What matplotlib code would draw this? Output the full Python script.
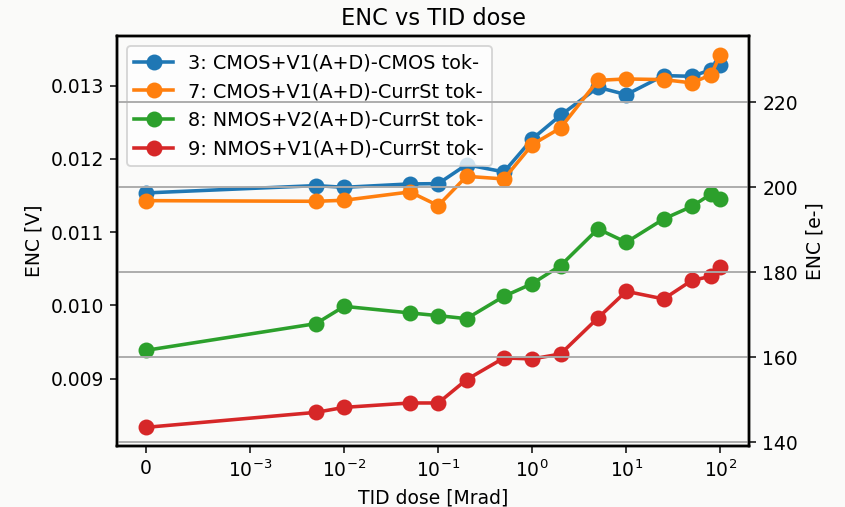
import matplotlib
matplotlib.use("Agg")
import matplotlib.pyplot as plt
from matplotlib.ticker import NullLocator

# TID dose steps [Mrad]
dose = [0, 0.005, 0.01, 0.05, 0.1, 0.2, 0.5, 1, 2, 5, 10, 25, 50, 80, 100]

# ENC [V] per configuration
enc_3 = [0.011535, 0.011635, 0.011612, 0.011658, 0.011662, 0.011921, 0.011822,
         0.012272, 0.012595, 0.012977, 0.012877, 0.013137, 0.013127, 0.013218, 0.013287]
enc_7 = [0.011430, 0.011421, 0.011435, 0.011549, 0.011362, 0.011762, 0.011726,
         0.012195, 0.012422, 0.013072, 0.013091, 0.013082, 0.013037, 0.013150, 0.013423]
enc_8 = [0.009386, 0.009751, 0.009987, 0.009897, 0.009860, 0.009819, 0.010124,
         0.010297, 0.010543, 0.011044, 0.010861, 0.011180, 0.011352, 0.011521, 0.011457]
enc_9 = [0.008335, 0.008540, 0.008608, 0.008668, 0.008668, 0.008986, 0.009283,
         0.009269, 0.009337, 0.009829, 0.010192, 0.010088, 0.010342, 0.010397, 0.010525]

labels = [
    "3: CMOS+V1(A+D)-CMOS tok-",
    "7: CMOS+V1(A+D)-CurrSt tok-",
    "8: NMOS+V2(A+D)-CurrSt tok-",
    "9: NMOS+V1(A+D)-CurrSt tok-",
]

# conversion from volts to electrons for the secondary axis
e_per_volt = 17220

bg = "#fafaf9"
dpi = 135
fig = plt.figure(figsize=(845 / dpi, 507 / dpi), dpi=dpi, facecolor=bg)
ax = fig.add_axes([0.1385, 0.1203, 0.8864 - 0.1385, 0.929 - 0.1203])
ax.set_facecolor(bg)

for series, lab in zip([enc_3, enc_7, enc_8, enc_9], labels):
    ax.plot(dose, series, "o-", label=lab, markersize=7.5, linewidth=1.9)

ax.set_xscale("symlog", linthresh=1e-3)
ax.xaxis.set_minor_locator(NullLocator())
ax.set_xlabel("TID dose [Mrad]")
ax.set_ylabel("ENC [V]")
ax.set_title("ENC vs TID dose")
ax.legend(loc="upper left", prop={"size": 10.3})

ax2 = ax.twinx()
lo, hi = ax.get_ylim()
ax2.set_ylim(lo * e_per_volt, hi * e_per_volt)
ax2.set_ylabel("ENC [e-]")
ax2.grid(True, axis="y", color="#aaaaaa", linewidth=1.0)

for a in (ax, ax2):
    for s in a.spines.values():
        s.set_linewidth(1.3)

fig.savefig("out.png", dpi=dpi, facecolor=bg)
